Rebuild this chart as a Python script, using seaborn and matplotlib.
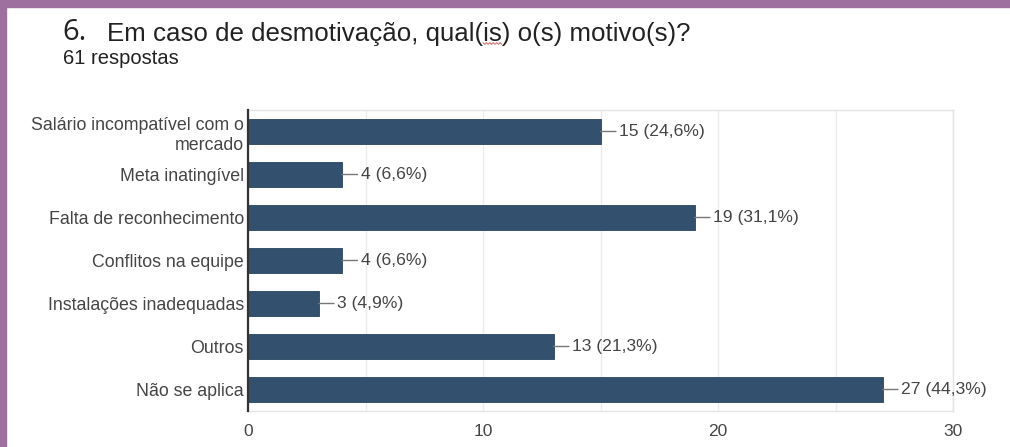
import matplotlib
matplotlib.use("Agg")
import matplotlib.pyplot as plt
import seaborn as sns
import pandas as pd
import numpy as np

categories = [
    "Salário incompatível com o\nmercado",
    "Meta inatingível",
    "Falta de reconhecimento",
    "Conflitos na equipe",
    "Instalações inadequadas",
    "Outros",
    "Não se aplica",
]
counts = [15, 4, 19, 4, 3, 13, 27]
total_responses = 61
x_ticks = [0, 10, 20, 30]
title_number = "6."
title_text = "Em caso de desmotivação, qual(is) o(s) motivo(s)?"
subtitle_text = "61 respostas"

sns.set_theme(style="white")
plt.rcParams["font.family"] = ["Liberation Sans", "DejaVu Sans"]

BAR = "#33506f"
TXT = "#454545"
W, H = 1010, 447

fig = plt.figure(figsize=(W / 100, H / 100), dpi=100)
fig.patch.set_facecolor("white")
ax = fig.add_axes([248 / W, 1 - 411 / H, (953 - 248) / W, (411 - 110) / H])

df = pd.DataFrame({"cat": categories, "n": counts})
sns.barplot(data=df, x="n", y="cat", orient="h", color=BAR, saturation=1,
            width=0.6, edgecolor="#2a4560", linewidth=0.6, ax=ax, zorder=3)

ax.set_xlim(0, 30)
ax.set_ylim(len(categories) - 0.5, -0.5)
ax.set_xticks(x_ticks)
ax.set_xticks([5, 15, 25], minor=True)
ax.grid(True, axis="x", which="both", color="#ececec", linewidth=1, zorder=0)
ax.grid(False, axis="y")
ax.set_xlabel("")
ax.set_ylabel("")
ax.tick_params(axis="x", which="both", length=0, pad=9, labelsize=12.5, labelcolor=TXT)
ax.tick_params(axis="y", length=0, pad=3, labelsize=12.8, labelcolor=TXT)
for lbl in ax.get_yticklabels():
    lbl.set_linespacing(1.25)

for side in ["top", "right", "bottom"]:
    ax.spines[side].set_color("#e4e4e4")
    ax.spines[side].set_linewidth(1)
ax.spines["left"].set_color("#333333")
ax.spines["left"].set_linewidth(1.6)
ax.spines["left"].set_zorder(5)

for i, v in enumerate(counts):
    pct = f"{100 * v / total_responses:.1f}".replace(".", ",")
    ax.annotate(f"{v} ({pct}%)", xy=(v, i), xytext=(13.5, 0),
                textcoords="offset points", va="center", ha="left",
                fontsize=12.6, color=TXT,
                arrowprops=dict(arrowstyle="-", color="#777777", lw=1,
                                shrinkA=0, shrinkB=0, relpos=(0, 0.5)))

# purple frame of the screenshot
fig.add_artist(plt.Rectangle((0, 0), 6 / W, 1, transform=fig.transFigure,
                             color="#9d70a0", zorder=10))
fig.add_artist(plt.Rectangle((0, 1 - 7 / H), 1, 7 / H, transform=fig.transFigure,
                             color="#9d70a0", zorder=10))

baseline = 1 - 40.5 / H
fig.text(62 / W, baseline, title_number, fontsize=21, color="#222222",
         family=["Open Sans", "DejaVu Sans"], va="baseline", ha="left")
TITLE_FS = 18.6
title_x = 107 / W
t = fig.text(title_x, baseline, title_text, fontsize=TITLE_FS, color="#222222",
             va="baseline", ha="left")
fig.text(63 / W, 1 - 64.5 / H, subtitle_text, fontsize=14.5, color="#222222",
         va="baseline", ha="left")

# spell-check squiggle under "is"
renderer = fig.canvas.get_renderer()
def text_width(s):
    tmp = fig.text(0, 0, s, fontsize=TITLE_FS)
    w = tmp.get_window_extent(renderer).width
    tmp.remove()
    return w
start = title_x * W + text_width(title_text[: title_text.index("(is)") + 1])
end = title_x * W + text_width(title_text[: title_text.index("(is)") + 3])
xs = np.linspace(start, end, 12)
ys = (H - 43.5) + np.where(np.arange(12) % 2 == 0, 0.8, -0.8)
fig.add_artist(plt.Line2D(xs / W, ys / H, transform=fig.transFigure,
                          color="#e07070", lw=0.8))

fig.savefig("out.png", dpi=100, facecolor="white")
